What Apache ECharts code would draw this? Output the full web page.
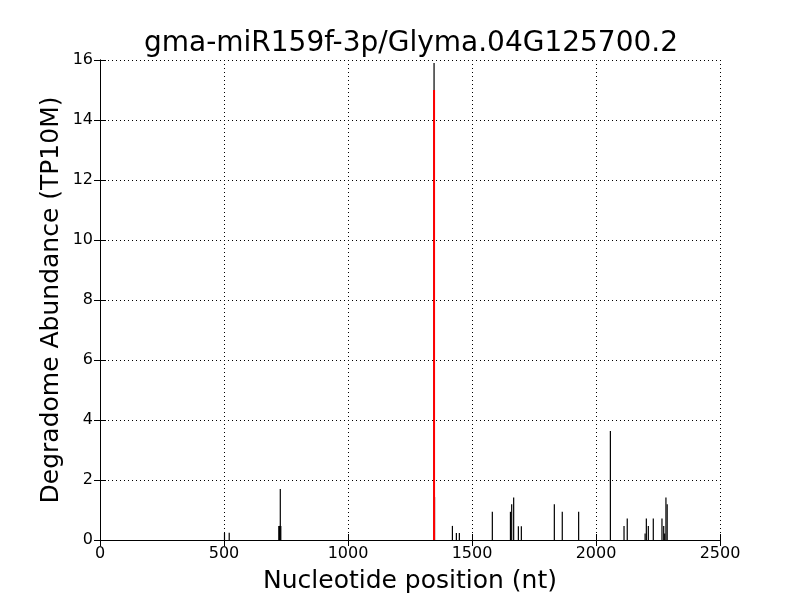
<!DOCTYPE html>
<html>
<head>
<meta charset="utf-8">
<script src="https://cdn.jsdelivr.net/npm/echarts@6/dist/echarts.min.js"></script>
<style>
  html, body { margin: 0; padding: 0; background: #fff; }
  #chart { width: 800px; height: 600px; }
</style>
</head>
<body>
<div id="chart"></div>
<script>
// 降解组读段位置与丰度
const positions = [502, 521, 721, 724, 727, 729, 1347, 1349, 1421, 1437, 1449, 1582, 1655, 1660, 1668, 1687, 1699,
  1832, 1864, 1930, 2058, 2113, 2126, 2198, 2203, 2211, 2231, 2266, 2273, 2277, 2282, 2287];
const abundance = [0.24, 0.24, 0.47, 0.47, 1.7, 0.47, 15.9, 1.43, 0.47, 0.23, 0.23, 0.94, 0.94, 1.19, 1.42, 0.46, 0.46,
  1.19, 0.94, 0.94, 3.63, 0.47, 0.72, 0.22, 0.72, 0.47, 0.72, 0.72, 0.47, 0.22, 1.42, 1.19];
// 切割位点
const sitePositions = [1347];
const siteAbundance = [15.0];

const font = "DejaVu Sans";

const stick = (color, width) => (params, api) => {
  const a = api.coord([api.value(0), 0]);
  const b = api.coord([api.value(0), api.value(1)]);
  return {
    type: "line",
    shape: { x1: a[0], y1: a[1], x2: b[0], y2: b[1] },
    style: { stroke: color, lineWidth: width },
  };
};

const axisCommon = {
  axisLine: { show: true, lineStyle: { color: "#000", width: 1 } },
  axisTick: { show: true, inside: true, length: 6, lineStyle: { color: "#000" } },
};

const chart = echarts.init(document.getElementById("chart"));
chart.setOption({
  animation: false,
  title: {
    text: "gma-miR159f-3p/Glyma.04G125700.2",
    left: 406,
    textAlign: "center",
    top: 25,
    textStyle: { fontFamily: font, fontSize: 28, fontWeight: "normal", color: "#000" },
  },
  grid: { left: 100, right: 80, top: 60, bottom: 60, outerBoundsMode: "none" },
  xAxis: [
    {
      type: "value",
      min: 0,
      max: 2500,
      interval: 500,
      name: "Nucleotide position (nt)",
      nameLocation: "middle",
      nameGap: 29,
      nameTextStyle: { fontFamily: font, fontSize: 25, color: "#000" },
      axisLabel: { fontFamily: font, fontSize: 16, color: "#000", margin: 6, formatter: (v) => String(v) },
      splitLine: { show: true, lineStyle: { color: "#000", width: 1, type: [1, 3] } },
      ...axisCommon,
    },
    {
      type: "value",
      position: "top",
      min: 0,
      max: 2500,
      interval: 500,
      axisLabel: { show: false },
      splitLine: { show: false },
      ...axisCommon,
    },
  ],
  yAxis: [
    {
      type: "value",
      min: 0,
      max: 16,
      interval: 2,
      name: "Degradome Abundance (TP10M)",
      nameLocation: "middle",
      nameGap: 36,
      nameMoveOverlap: false,
      nameTextStyle: { fontFamily: font, fontSize: 25, color: "#000" },
      axisLabel: { fontFamily: font, fontSize: 16, color: "#000", margin: 7 },
      splitLine: { show: true, lineStyle: { color: "#000", width: 1, type: [1, 3] } },
      ...axisCommon,
    },
    {
      type: "value",
      position: "right",
      min: 0,
      max: 16,
      interval: 2,
      axisLabel: { show: false },
      splitLine: { show: false },
      ...axisCommon,
    },
  ],
  series: [
    {
      type: "custom",
      renderItem: stick("#000", 1.2),
      data: positions.map((p, i) => [p, abundance[i]]),
      z: 2,
    },
    {
      type: "custom",
      renderItem: stick("#ff0000", 2),
      data: sitePositions.map((p, i) => [p, siteAbundance[i]]),
      z: 3,
    },
  ],
});
</script>
</body>
</html>
